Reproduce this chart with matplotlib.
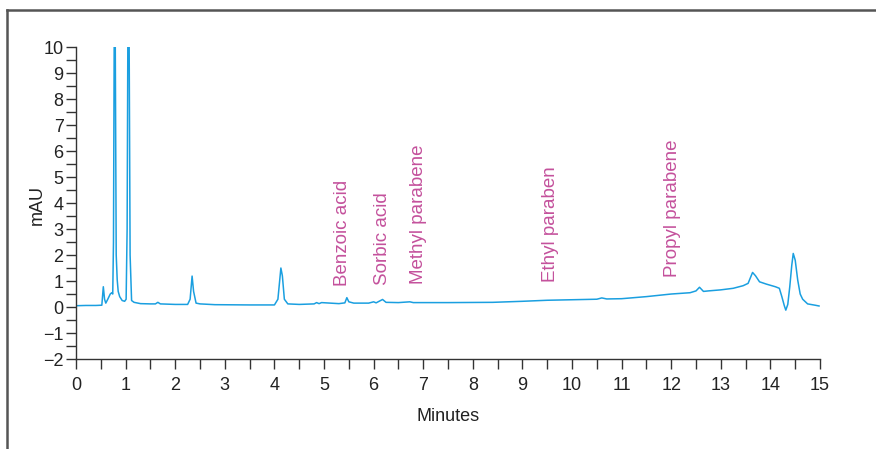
import matplotlib
matplotlib.use("Agg")
import matplotlib.pyplot as plt
from matplotlib.lines import Line2D
from matplotlib.ticker import MultipleLocator
from matplotlib import font_manager

FIG_W = 8.76
FIG_H = 4.49
FIG_DPI = 100

LINE_COLOR = '#1a9fe0'
LABEL_COLOR = '#c4519c'
AXIS_COLOR = '#333333'

# chromatogram trace (minutes, mAU)
minutes = [0.0, 0.2, 0.4, 0.52, 0.55, 0.575, 0.6, 0.64, 0.69, 0.72, 0.74, 0.755,
           0.77, 0.79, 0.81, 0.83, 0.85, 0.88, 0.93, 0.98, 1.01, 1.03, 1.045,
           1.07, 1.09, 1.12, 1.17, 1.3, 1.5, 1.6, 1.65, 1.7, 2.0, 2.25, 2.3,
           2.34, 2.37, 2.42, 2.5, 2.8, 3.5, 4.0, 4.07, 4.13, 4.16, 4.2, 4.27,
           4.5, 4.8, 4.85, 4.9, 4.95, 5.3, 5.42, 5.46, 5.5, 5.6, 5.9, 6.0, 6.05,
           6.18, 6.25, 6.5, 6.73, 6.8, 7.5, 8.4, 9.0, 9.5, 10.0, 10.5, 10.6,
           10.7, 11.0, 11.5, 12.0, 12.38, 12.5, 12.57, 12.65, 12.75, 13.0, 13.25,
           13.45, 13.55, 13.64, 13.7, 13.78, 13.92, 14.1, 14.18, 14.23, 14.28,
           14.31, 14.35, 14.39, 14.43, 14.46, 14.5, 14.55, 14.6, 14.65, 14.75,
           14.9, 14.98]
mau = [0.05, 0.06, 0.06, 0.07, 0.78, 0.3, 0.15, 0.3, 0.5, 0.55, 0.5, 2.5,
       10.5, 10.5, 2.0, 1.05, 0.6, 0.4, 0.25, 0.22, 0.3, 3.0, 10.5,
       10.5, 2.0, 0.25, 0.18, 0.13, 0.12, 0.12, 0.18, 0.12, 0.1, 0.1, 0.3,
       1.19, 0.6, 0.15, 0.12, 0.09, 0.08, 0.08, 0.3, 1.5, 1.2, 0.3, 0.12,
       0.1, 0.12, 0.17, 0.13, 0.17, 0.13, 0.16, 0.36, 0.2, 0.15, 0.15, 0.2, 0.16,
       0.29, 0.18, 0.17, 0.2, 0.17, 0.17, 0.18, 0.22, 0.26, 0.28, 0.3, 0.35,
       0.31, 0.32, 0.4, 0.5, 0.55, 0.62, 0.76, 0.6, 0.62, 0.66, 0.72,
       0.82, 0.91, 1.33, 1.2, 0.97, 0.88, 0.78, 0.72, 0.4, 0.05,
       -0.12, 0.1, 0.78, 1.6, 2.06, 1.8, 1.04, 0.5, 0.3, 0.12,
       0.07, 0.04]

# peak labels
compounds = ['Benzoic acid', 'Sorbic acid', 'Methyl parabene', 'Ethyl paraben', 'Propyl parabene']
label_minutes = [5.38, 6.18, 6.9, 9.57, 12.02]
label_mau = [0.8, 0.85, 0.88, 0.97, 1.17]

names = {f.name for f in font_manager.fontManager.ttflist}
if 'Liberation Sans Narrow' in names:
    plt.rcParams['font.family'] = ['Liberation Sans Narrow', 'DejaVu Sans']
else:
    plt.rcParams['font.family'] = ['Liberation Sans', 'DejaVu Sans']

fig = plt.figure(figsize=(FIG_W, FIG_H), dpi=FIG_DPI)
ax = fig.add_axes([0.0868, 0.2004, 0.8493, 0.6949])

ax.plot(minutes, mau, color=LINE_COLOR, linewidth=1.1)

for name, t, v in zip(compounds, label_minutes, label_mau):
    ax.text(t, v, name, rotation=90, ha='center', va='bottom',
            color=LABEL_COLOR, fontsize=13.5)

ax.set_xlim(0, 15)
ax.set_ylim(-2, 10)
ax.xaxis.set_major_locator(MultipleLocator(1))
ax.xaxis.set_minor_locator(MultipleLocator(0.5))
ax.yaxis.set_minor_locator(MultipleLocator(0.5))
ax.set_yticks(range(-2, 11))
ax.set_yticklabels(['\u22122', '\u22121'] + [str(i) for i in range(0, 11)])

for side in ['top', 'right']:
    ax.spines[side].set_visible(False)
for side in ['left', 'bottom']:
    ax.spines[side].set_color(AXIS_COLOR)
    ax.spines[side].set_linewidth(1.0)

ax.tick_params(which='both', direction='out', length=7, width=1.0,
               color=AXIS_COLOR, labelsize=13, labelcolor='#222222')
ax.tick_params(axis='x', which='major', pad=6)
ax.tick_params(axis='y', which='major', pad=2)

ax.set_xlabel('Minutes', fontsize=13, labelpad=10, color='#222222')
ax.set_ylabel('mAU', fontsize=13, color='#222222')
ax.yaxis.set_label_coords(-0.040, 0.494)

# frame lines along the top and left edges of the picture
fig.add_artist(Line2D([7 / 876, 1.0], [1 - 10 / 449, 1 - 10 / 449],
                      color='#555555', linewidth=1.8))
fig.add_artist(Line2D([7 / 876, 7 / 876], [0.0, 1 - 10 / 449],
                      color='#555555', linewidth=1.8))

fig.savefig('out.png', dpi=FIG_DPI)
plt.close(fig)
